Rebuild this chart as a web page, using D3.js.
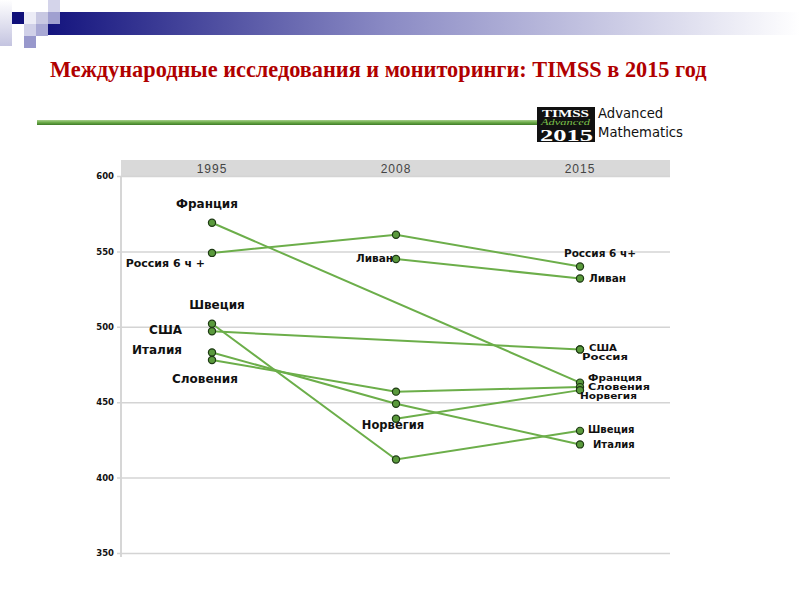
<!DOCTYPE html>
<html><head><meta charset="utf-8">
<script src="https://cdn.jsdelivr.net/npm/d3@7"></script>
<style>body{margin:0;background:#fff}svg{display:block}</style>
</head><body><svg id="c" width="800" height="600"></svg>
<script>
const years = ["1995","2008","2015"];
const yTicks = [350,400,450,500,550,600];
const countries = ["Франция","Россия 6 ч+","Ливан","Швеция","США","Италия","Словения","Норвегия","Россия"];
const v1995 = [569, 549, null, 502, 497, 483, 478, null, null];
const v2008 = [null, 561, 545, 412, null, 449, 457, 439, null];
const v2015 = [463, 540, 532, 431, 485, 422, 460, 458, 485];
// point labels: text, year index, value
const labelText = ["Франция","Россия 6 ч +","Швеция","США","Италия","Словения","Ливан","Норвегия","Россия 6 ч+","Ливан","США","Россия","Франция","Словения","Норвегия","Швеция","Италия"];
const labelYear = [0,0,0,0,0,0,1,1,2,2,2,2,2,2,2,2,2];
const labelValue = [569,549,502,497,483,478,545,439,540,532,485,485,463,460,458,431,422];

// layout for labels (offsets from the point, anchor, font size, stretched width)
const labelLayout = [
 [-5,-15,"middle",12,0],[-7,14,"end",11,0],[5,-15,"middle",12,0],[-30,3,"end",12,0],[-30,2,"end",12,0],[-7,23,"middle",12,0],
 [-3,3,"end",10.5,0],[-3,10,"middle",11.5,0],
 [20,-9,"middle",10.5,0],[9,3.5,"start",10.5,0],[9,1.6,"start",9,28],[2,11,"start",9,46],
 [8,-2,"start",9,54],[8,2.4,"start",9,62],[0,8.4,"start",9,57],[8,2,"start",10,0],[13,3.5,"start",10,0]
];

const svg = d3.select("#c");
const defs = svg.append("defs");
const g1 = defs.append("linearGradient").attr("id","bar");
g1.append("stop").attr("offset","0").attr("stop-color","#14147e");
g1.append("stop").attr("offset","0.45").attr("stop-color","#8a8ac4");
g1.append("stop").attr("offset","1").attr("stop-color","#ffffff");
const g2 = defs.append("linearGradient").attr("id","strip").attr("x1",0).attr("y1",0).attr("x2",0).attr("y2",1);
g2.append("stop").attr("offset","0").attr("stop-color","#ffffff");
g2.append("stop").attr("offset","1").attr("stop-color","#c4c4e0");
const g3 = defs.append("linearGradient").attr("id","gl").attr("x1",0).attr("y1",0).attr("x2",0).attr("y2",1);
g3.append("stop").attr("offset","0").attr("stop-color","#a8d08c");
g3.append("stop").attr("offset","0.5").attr("stop-color","#6aaa48");
g3.append("stop").attr("offset","1").attr("stop-color","#3f7a28");

// decoration
svg.append("rect").attr("x",48).attr("y",12).attr("width",752).attr("height",23).attr("fill","url(#bar)");
svg.append("rect").attr("x",0).attr("y",0).attr("width",12).attr("height",46).attr("fill","url(#strip)");
const sq = [[12,12,"#10107a"],[24,12,"#ececf6"],[36,12,"#c8c8e2"],[48,0,"#d4d4ea"],[48,12,"#a0a0d0"],[24,24,"#d0d0e8"],[36,24,"#a8a8d4"],[24,36,"#9898cc"]];
svg.selectAll("rect.sq").data(sq).join("rect").attr("class","sq")
  .attr("x",d=>d[0]).attr("y",d=>d[1]).attr("width",12).attr("height",12).attr("fill",d=>d[2]);

svg.append("text").attr("x",50).attr("y",77)
  .attr("font-family","Liberation Serif, Times New Roman, serif").attr("font-weight","bold")
  .attr("font-size",22.3).attr("fill","#b00000")
  .text("Международные исследования и мониторинги: TIMSS в 2015 год");

svg.append("rect").attr("x",37).attr("y",120).attr("width",505).attr("height",5).attr("fill","url(#gl)");

// logo
svg.append("rect").attr("x",537).attr("y",107).attr("width",58).attr("height",35).attr("fill","#111");
svg.append("text").attr("x",542).attr("y",117).attr("textLength",47).attr("lengthAdjust","spacingAndGlyphs")
  .attr("font-family","Liberation Serif, serif").attr("font-weight","bold").attr("font-size",10).attr("fill","#fff").text("TIMSS");
svg.append("text").attr("x",541).attr("y",125).attr("textLength",49).attr("lengthAdjust","spacingAndGlyphs")
  .attr("font-family","Liberation Serif, serif").attr("font-style","italic").attr("font-size",8).attr("fill","#7cc04a").text("Advanced");
svg.append("text").attr("x",540).attr("y",140.5).attr("textLength",53).attr("lengthAdjust","spacingAndGlyphs")
  .attr("font-family","Liberation Serif, serif").attr("font-weight","bold").attr("font-size",17).attr("fill","#fff").text("2015");
svg.append("text").attr("x",598).attr("y",118).attr("font-family","DejaVu Sans, sans-serif").attr("font-size",13.2).attr("fill","#111").text("Advanced");
svg.append("text").attr("x",598).attr("y",137).attr("font-family","DejaVu Sans, sans-serif").attr("font-size",13.2).attr("fill","#111").text("Mathematics");

// chart
const pLeft = 121, pRight = 670, pTop = 176, pBottom = 553;
const x = d3.scalePoint().domain(years).range([212, 580]);
const y = d3.scaleLinear().domain([350,600]).range([pBottom, pTop]);

svg.append("rect").attr("x",pLeft).attr("y",160).attr("width",pRight-pLeft).attr("height",17).attr("fill","#d9d9d9");
svg.selectAll("text.yr").data(years).join("text").attr("class","yr")
  .attr("x",d=>x(d)).attr("y",173).attr("text-anchor","middle")
  .attr("font-family","Liberation Sans, Arial, sans-serif").attr("font-size",12).attr("letter-spacing",1).attr("fill","#444").text(d=>d);

const yAxis = d3.axisLeft(y).tickValues(yTicks).tickSize(-(pRight-pLeft)).tickPadding(7);
const ga = svg.append("g").attr("transform",`translate(${pLeft},0)`).call(yAxis);
ga.select(".domain").attr("stroke","#c8c8c8").attr("stroke-width",1.5).attr("d",`M0,${pTop}V${pBottom+4}`);
ga.selectAll(".tick line").attr("stroke","#d4d4d4").attr("stroke-width",1.5).attr("x1",-4);
ga.selectAll(".tick text").attr("font-family","DejaVu Sans, sans-serif").attr("font-weight","bold").attr("font-size",8.5).attr("fill","#111");

const series = countries.map((c,i)=>({name:c, pts:[v1995[i],v2008[i],v2015[i]].map((v,j)=>({yr:years[j],v})).filter(p=>p.v!==null)}));
const line = d3.line().x(p=>x(p.yr)).y(p=>y(p.v));
svg.append("g").selectAll("path").data(series).join("path")
  .attr("d",d=>line(d.pts)).attr("fill","none").attr("stroke","#6cae4a").attr("stroke-width",2);
svg.append("g").selectAll("circle").data(series.flatMap(d=>d.pts)).join("circle")
  .attr("cx",p=>x(p.yr)).attr("cy",p=>y(p.v)).attr("r",3.6)
  .attr("fill","#5a9a3c").attr("stroke","#1e3a14").attr("stroke-width",1.2);

const lt = svg.append("g").selectAll("text").data(labelText.map((t,i)=>({t, yr:years[labelYear[i]], v:labelValue[i], L:labelLayout[i]}))).join("text")
  .attr("x",d=>x(d.yr)+d.L[0]).attr("y",d=>y(d.v)+d.L[1]).attr("text-anchor",d=>d.L[2])
  .attr("font-family","DejaVu Sans, sans-serif").attr("font-weight","bold").attr("font-size",d=>d.L[3]).attr("fill","#111")
  .text(d=>d.t);
lt.filter(d=>d.L[4]>0).attr("textLength",d=>d.L[4]).attr("lengthAdjust","spacingAndGlyphs");
</script></body></html>
